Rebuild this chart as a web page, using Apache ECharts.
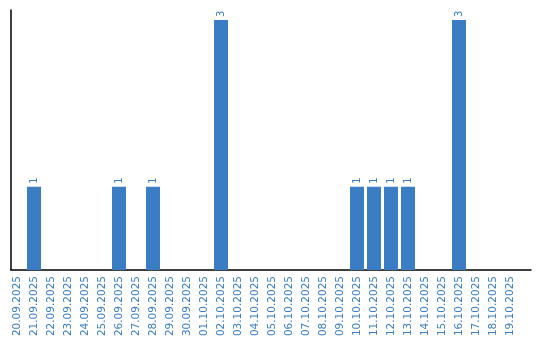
<!DOCTYPE html>
<html>
<head>
<meta charset="utf-8">
<script src="https://cdn.jsdelivr.net/npm/echarts@6/dist/echarts.min.js"></script>
<style>html,body{margin:0;padding:0;background:#fff;}#c{width:540px;height:340px;}</style>
</head>
<body>
<div id="c"></div>
<script>
var categories = ['20.09.2025','21.09.2025','22.09.2025','23.09.2025','24.09.2025','25.09.2025','26.09.2025','27.09.2025','28.09.2025','29.09.2025','30.09.2025','01.10.2025','02.10.2025','03.10.2025','04.10.2025','05.10.2025','06.10.2025','07.10.2025','08.10.2025','09.10.2025','10.10.2025','11.10.2025','12.10.2025','13.10.2025','14.10.2025','15.10.2025','16.10.2025','17.10.2025','18.10.2025','19.10.2025'];
var counts = [0,1,0,0,0,0,1,0,1,0,0,0,3,0,0,0,0,0,0,0,1,1,1,1,0,0,3,0,0,0];

var blue = '#3a7dc4';
var chart = echarts.init(document.getElementById('c'));
chart.setOption({
  animation: false,
  grid: [
    {left: 8.5, width: 510, top: 10, bottom: 70},
    {left: 11, right: 9, top: 10, bottom: 70}
  ],
  xAxis: [
    {type: 'category', gridIndex: 0, data: categories,
     axisLine: {show: false}, axisTick: {show: false},
     axisLabel: {rotate: 90, interval: 0, margin: 6, color: blue, fontFamily: 'DejaVu Sans', fontSize: 10.5}},
    {type: 'value', gridIndex: 1, min: 0, max: 1,
     axisLine: {show: true, lineStyle: {color: '#000', width: 1.5}}, axisTick: {show: false},
     axisLabel: {show: false}, splitLine: {show: false}}
  ],
  yAxis: [
    {type: 'value', gridIndex: 0, min: 0, max: 3.12,
     axisLine: {show: false}, axisTick: {show: false}, axisLabel: {show: false}, splitLine: {show: false}},
    {type: 'value', gridIndex: 1, min: 0, max: 1,
     axisLine: {show: true, lineStyle: {color: '#000', width: 1.5}}, axisTick: {show: false},
     axisLabel: {show: false}, splitLine: {show: false}}
  ],
  series: [{
    type: 'bar', xAxisIndex: 0, yAxisIndex: 0,
    data: counts.map(function(v){ return v === 0 ? null : v; }),
    barWidth: 14,
    itemStyle: {color: blue},
    label: {show: true, position: 'top', rotate: 90, align: 'left', verticalAlign: 'middle',
            distance: 3, color: blue, fontFamily: 'DejaVu Sans', fontSize: 10}
  }]
});
</script>
</body>
</html>
